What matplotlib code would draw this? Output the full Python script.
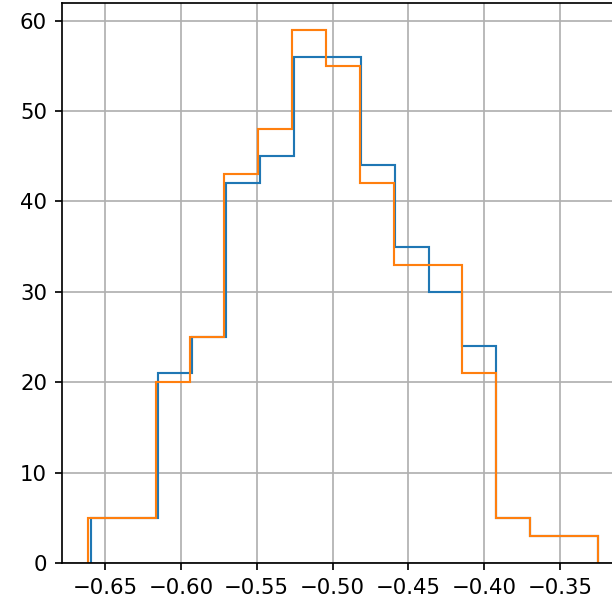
import numpy as np
import matplotlib
matplotlib.use('agg')
import matplotlib.pyplot as plt

# Bin edges (start, end) and counts, 15 bins each
blue_range = (-0.6594, -0.3252)
blue_counts = [5, 5, 21, 25, 42, 45, 56, 56, 44, 35, 30, 24, 5, 3, 3]

orange_range = (-0.6616, -0.3247)
orange_counts = [5, 5, 20, 25, 43, 48, 59, 55, 42, 33, 33, 21, 5, 3, 3]

blue_edges = np.linspace(blue_range[0], blue_range[1], len(blue_counts) + 1)
orange_edges = np.linspace(orange_range[0], orange_range[1], len(orange_counts) + 1)

# --------------------------------------------------------------------------- #
fig = plt.figure(figsize=(4.0, 603 / 153.0), dpi=153)
ax = fig.add_axes([0.1013, 0.0663, 0.918, 0.9287])

ax.hist(blue_edges[:-1], bins=blue_edges, weights=blue_counts,
        histtype='step', color='#1f77b4')
ax.hist(orange_edges[:-1], bins=orange_edges, weights=orange_counts,
        histtype='step', color='#ff7f0e')

ax.grid(True)

fig.savefig('out.png', dpi=153)
